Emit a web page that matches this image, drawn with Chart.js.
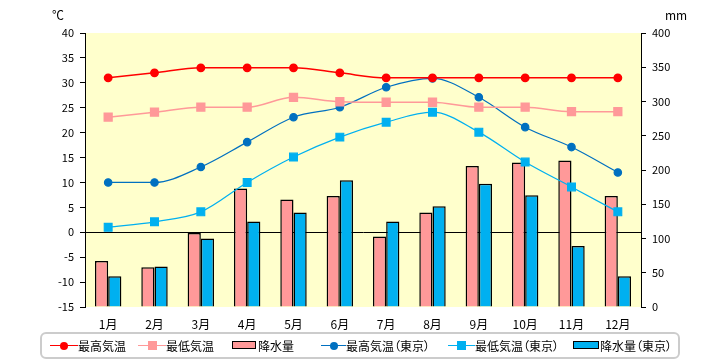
<!DOCTYPE html>
<html>
<head>
<meta charset="utf-8">
<script src="https://cdn.jsdelivr.net/npm/chart.js@4"></script>
<style>
  body { margin: 0; background: #fff; }
  #wrap { position: relative; width: 720px; height: 360px; font-family: "Noto Sans CJK JP", sans-serif; }
  .unit { position: absolute; top: 6px; font-size: 12px; color: #000; }
  #legend { position: absolute; left: 40px; top: 332px; width: 636px; height: 23px;
    border: 2px solid #ccc; border-radius: 6px; box-sizing: content-box; font-size: 12px;
    font-feature-settings: "palt"; }
  .ln { position: absolute; top: 11px; height: 0; border-top: 1.5px solid; }
  .dot { position: absolute; top: 8px; width: 8px; height: 8px; border-radius: 50%; }
  .sq { position: absolute; top: 7px; width: 9px; height: 9px; }
  .bar { position: absolute; top: 7px; height: 6px; border: 1.5px solid #000; }
  .txt { position: absolute; top: 0; line-height: 23px; white-space: nowrap; }
</style>
</head>
<body>
<div id="wrap">
  <canvas id="c" width="720" height="360"></canvas>
  <div class="unit" style="left:52px">℃</div>
  <div class="unit" style="left:665px">mm</div>
  <div id="legend"></div>
</div>
<script>
const months = ['1月','2月','3月','4月','5月','6月','7月','8月','9月','10月','11月','12月'];
const maxTemp = [31, 32, 33, 33, 33, 32, 31, 31, 31, 31, 31, 31];
const minTemp = [23.1, 24.1, 25.1, 25.1, 27.1, 26.2, 26.1, 26.1, 25.1, 25.1, 24.2, 24.2];
const rain = [67, 58, 108, 173, 157, 162, 103, 138, 206, 211, 214, 162];
const maxTokyo = [10, 10, 13.1, 18.1, 23.1, 25.1, 29.1, 30.9, 27.1, 21.1, 17.1, 12.0];
const minTokyo = [1.0, 2.1, 4.1, 10.0, 15.1, 19.1, 22.1, 24.1, 20.1, 14.1, 9.1, 4.1];
const rainTokyo = [45, 59, 100, 125, 138, 185, 125, 147, 180, 163, 89, 45];

const RED = '#ff0000', PINK = '#ff9999', BLUE = '#0070c0', SKY = '#00b0f0';

const plotBg = {
  id: 'plotBg',
  beforeDraw(chart) {
    const { ctx, chartArea: a } = chart;
    ctx.save();
    ctx.fillStyle = '#ffffcc';
    ctx.fillRect(a.left, a.top, a.right - a.left, a.bottom - a.top);
    ctx.restore();
  }
};

const tickFont = { family: '"Noto Sans CJK JP", sans-serif', size: 11 };

new Chart(document.getElementById('c'), {
  type: 'bar',
  data: {
    labels: months,
    datasets: [
      { type: 'line', label: '最高気温', data: maxTemp, yAxisID: 'y', borderColor: RED, backgroundColor: RED,
        borderWidth: 1.5, pointRadius: 3.7, pointHoverRadius: 3.7, cubicInterpolationMode: 'monotone', order: 0 },
      { type: 'line', label: '最低気温', data: minTemp, yAxisID: 'y', borderColor: PINK, backgroundColor: PINK,
        borderWidth: 1.5, pointStyle: 'rect', pointRadius: 5.5, pointHoverRadius: 5.5, cubicInterpolationMode: 'monotone', order: 0 },
      { label: '降水量', data: rain, yAxisID: 'y2', backgroundColor: PINK, borderColor: '#000', borderWidth: 1.5, order: 1 },
      { type: 'line', label: '最高気温（東京）', data: maxTokyo, yAxisID: 'y', borderColor: BLUE, backgroundColor: BLUE,
        borderWidth: 1.2, pointRadius: 3.7, pointHoverRadius: 3.7, cubicInterpolationMode: 'monotone', order: 0 },
      { type: 'line', label: '最低気温（東京）', data: minTokyo, yAxisID: 'y', borderColor: SKY, backgroundColor: SKY,
        borderWidth: 1.2, pointStyle: 'rect', pointRadius: 5.5, pointHoverRadius: 5.5, cubicInterpolationMode: 'monotone', order: 0 },
      { label: '降水量（東京）', data: rainTokyo, yAxisID: 'y2', backgroundColor: SKY, borderColor: '#000', borderWidth: 1.5, order: 1 }
    ]
  },
  options: {
    responsive: false,
    animation: false,
    layout: { padding: { top: 33, right: 0, left: 0, bottom: 0 } },
    datasets: { bar: { categoryPercentage: 0.57, barPercentage: 1 } },
    plugins: { legend: { display: false }, tooltip: { enabled: false } },
    scales: {
      x: {
        grid: { display: false },
        border: { display: false },
        ticks: { color: '#000', font: { family: tickFont.family, size: 12 }, padding: 2 },
        afterFit(s) { s.height = 53; }
      },
      y: {
        position: 'left',
        min: -15, max: 40,
        ticks: { stepSize: 5, color: '#000', font: tickFont, padding: 6 },
        grid: {
          drawOnChartArea: true, tickLength: 5, tickColor: '#000', lineWidth: 1,
          color: c => (c.tick && c.tick.value === 0) ? '#000' : 'rgba(0,0,0,0)'
        },
        border: { color: '#000', width: 1 },
        afterFit(s) { s.width = 85; }
      },
      y2: {
        position: 'right',
        min: 0, max: 400,
        ticks: { stepSize: 50, color: '#000', font: tickFont, padding: 6 },
        grid: { drawOnChartArea: false, tickLength: 5, tickColor: '#000' },
        border: { color: '#000', width: 1 },
        afterFit(s) { s.width = 79; }
      }
    }
  },
  plugins: [plotBg]
});

// legend: [label, marker kind, colour, marker left, marker width, text left]
const legendItems = [
  ['最高気温', 'dot', RED, 8, 28, 36],
  ['最低気温', 'sq', PINK, 96, 28, 124],
  ['降水量', 'bar', PINK, 190, 25, 216],
  ['最高気温（東京）', 'dot', BLUE, 279, 25, 304],
  ['最低気温（東京）', 'sq', SKY, 406, 27, 433],
  ['降水量（東京）', 'bar', SKY, 531, 27, 558]
];
const leg = document.getElementById('legend');
let html = '';
legendItems.forEach(([label, kind, color, x, w, tx]) => {
  if (kind === 'bar') {
    html += `<span class="bar" style="left:${x}px;width:${w - 3}px;background:${color}"></span>`;
  } else {
    html += `<span class="ln" style="left:${x}px;width:${w}px;border-color:${color}"></span>`;
    const cls = kind === 'dot' ? 'dot' : 'sq';
    const size = kind === 'dot' ? 8 : 9;
    html += `<span class="${cls}" style="left:${x + Math.round(w / 2 - size / 2)}px;background:${color}"></span>`;
  }
  html += `<span class="txt" style="left:${tx}px">${label}</span>`;
});
leg.innerHTML = html;
</script>
</body>
</html>
